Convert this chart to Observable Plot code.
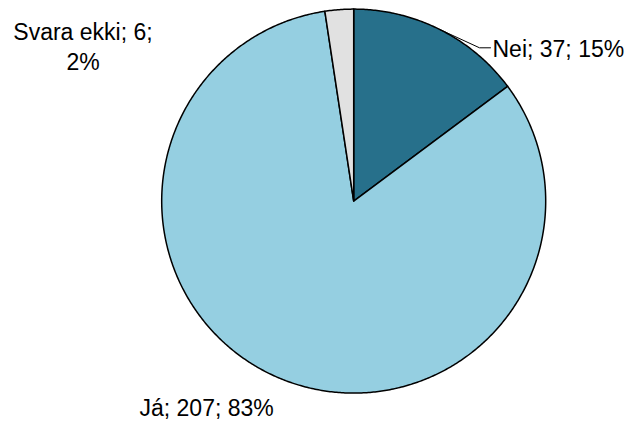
<!DOCTYPE html>
<html>
<head>
<meta charset="utf-8">
<script src="https://cdn.jsdelivr.net/npm/d3@7"></script>
<script src="https://cdn.jsdelivr.net/npm/@observablehq/plot@0.6"></script>
<style>
  html, body { margin: 0; padding: 0; background: #fff; }
  svg { display: block; }
</style>
</head>
<body>
<div id="chart"></div>
<script>
// ---- data ----
const categories = ["Nei", "Já", "Svara ekki"];
const counts = [37, 207, 6];
const colors = ["#27708B", "#95CFE1", "#E1E1E1"];

// ---- layout ----
const W = 631, H = 421;
const cx = 353.2, cy = 200.6, R = 192;
const labelX = [492, 139, 82.5];
const labelY = [49.3, 408.3, 44.9];
const labelAnchor = ["start", "start", "middle"];
const fontSize = 23;

const total = d3.sum(counts);
const arcs = d3.pie().sort(null).startAngle(0).endAngle(2 * Math.PI)(counts);

const pt = (a, r = R) => [cx + r * Math.sin(a), cy - r * Math.cos(a)];

// polygon points for each slice derived from pie angles
const slicePts = [];
arcs.forEach((a, i) => {
  const [x0, y0] = pt(0, 0);
  slicePts.push({cat: categories[i], x: x0, y: y0, order: 0});
  const n = Math.max(4, Math.ceil((a.endAngle - a.startAngle) / (Math.PI / 360)));
  for (let k = 0; k <= n; k++) {
    const t = a.startAngle + (a.endAngle - a.startAngle) * k / n;
    const [x, y] = pt(t);
    slicePts.push({cat: categories[i], x, y, order: k + 1});
  }
});

const labels = categories.map((c, i) => ({
  text: i === 2
    ? `${c}; ${counts[i]};\n${Math.round(counts[i] / total * 100)}%`
    : `${c}; ${counts[i]}; ${Math.round(counts[i] / total * 100)}%`,
  x: labelX[i], y: labelY[i], anchor: labelAnchor[i]
}));

// leader line for "Nei" from the slice mid-angle on the rim to the label
const neiMid = (arcs[0].startAngle + arcs[0].endAngle) / 2;
const [lx, ly] = pt(neiMid);
const leader = [
  {x: lx, y: ly},
  {x: labelX[0] - 13, y: labelY[0] - 2},
  {x: labelX[0] - 2, y: labelY[0] - 2}
];

const chart = Plot.plot({
  width: W, height: H,
  margin: 0,
  x: {type: "identity", axis: null},
  y: {type: "identity", axis: null},
  color: {domain: categories, range: colors},
  style: {fontFamily: "'Liberation Sans', Arial, sans-serif", background: "#fff"},
  marks: [
    Plot.line(slicePts, {
      x: "x", y: "y", z: "cat", fill: "cat", stroke: "#000",
      strokeWidth: 1.5, curve: "linear-closed", sort: "order", strokeLinejoin: "round"
    }),
    Plot.line(leader, {x: "x", y: "y", stroke: "#000", strokeWidth: 1}),
    Plot.text(labels.filter(d => d.anchor === "start"), {
      x: "x", y: "y", text: "text", textAnchor: "start",
      fontSize, fill: "#000"
    }),
    Plot.text(labels.filter(d => d.anchor === "middle"), {
      x: "x", y: "y", text: "text", textAnchor: "middle",
      fontSize, lineHeight: 30 / 23, fill: "#000"
    })
  ]
});
document.getElementById("chart").appendChild(chart);
</script>
</body>
</html>
